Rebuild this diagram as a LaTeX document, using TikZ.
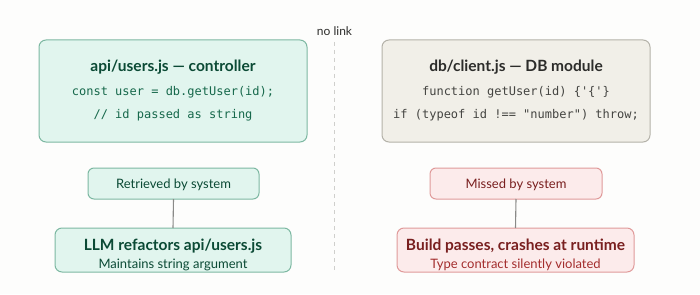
\documentclass[tikz,border=0pt]{standalone}
\usepackage{fontspec}
\setmainfont{Lato}
\newfontfamily\codefont{DejaVu Sans Mono}
\definecolor{bg}{HTML}{FDFDFC}
\definecolor{gfill}{HTML}{E1F5EE}
\definecolor{gdraw}{HTML}{7DB8A2}
\definecolor{gtext}{HTML}{0B4A35}
\definecolor{gcode}{HTML}{16684B}
\definecolor{nfill}{HTML}{F1EFE8}
\definecolor{ndraw}{HTML}{B4B2A9}
\definecolor{ntext}{HTML}{2C2C2A}
\definecolor{ncode}{HTML}{444441}
\definecolor{rfill}{HTML}{FCEBEB}
\definecolor{rdraw}{HTML}{E09A9A}
\definecolor{rtext}{HTML}{791F1F}
\definecolor{rsub}{HTML}{A32D2D}
\definecolor{conn}{HTML}{8A8A88}
\definecolor{divcol}{HTML}{CFCFCC}
\begin{document}
\begin{tikzpicture}[x=1pt,y=-1pt,
  box/.style={draw, line width=1pt, inner sep=0pt, outer sep=0pt},
  gbox/.style={box, fill=gfill, draw=gdraw},
  nbox/.style={box, fill=nfill, draw=ndraw},
  rbox/.style={box, fill=rfill, draw=rdraw},
  big/.style={rounded corners=7pt},
  small/.style={rounded corners=6pt},
  txt/.style={anchor=base, inner sep=0pt},
  ttl/.style={txt, font=\fontsize{15.5}{18}\selectfont\bfseries},
  code/.style={txt, font=\fontsize{12}{14}\selectfont\codefont},
  lbl/.style={txt, font=\fontsize{13}{15}\selectfont},
  connector/.style={draw=conn, line width=1.1pt}
]
\fill[bg] (0,0) rectangle (700,294);
\useasboundingbox (0,0) rectangle (700,294);

% divider
\coordinate (dtop) at (334,42);
\coordinate (dbot) at (334,273);
\draw[divcol, line width=1pt, dash pattern=on 4pt off 4pt] (dtop) -- (dbot);
\node[txt, font=\fontsize{12}{14}\selectfont, text=ntext] (nolink) at (334.5,36) {no link};

% top boxes
\node[gbox, big, minimum width=268pt, minimum height=102pt] (api) at (173,91) {};
\node[ttl, text=gtext] (apit) at (173,72) {api/users.js — controller};
\node[code, text=gcode] (apic1) at (173,95.5) {const user = db.getUser(id);};
\node[code, text=gcode] (apic2) at (173,118.5) {// id passed as string};

\node[nbox, big, minimum width=268pt, minimum height=102pt] (db) at (516,91) {};
\node[ttl, text=ntext] (dbt) at (516,72) {db/client.js — DB module};
\node[code, text=ncode] (dbc1) at (516,95.5) {function getUser(id) \{\char"27\{\char"27\}};
\node[code, text=ncode] (dbc2) at (516,118.5) {if (typeof id !== "number") throw;};

% middle small boxes
\node[gbox, small, minimum width=171pt, minimum height=31pt] (ret) at (173.5,183.5) {};
\node[lbl, text=gtext] (rett) at (173.5,188.5) {Retrieved by system};

\node[rbox, small, minimum width=172pt, minimum height=31pt] (miss) at (516,183.5) {};
\node[lbl, text=rtext] (misst) at (516,188.5) {Missed by system};

% bottom boxes
\node[gbox, big, minimum width=236pt, minimum height=44pt] (llm) at (173,250) {};
\node[ttl, text=gtext] (llmt) at (173,250.5) {LLM refactors api/users.js};
\node[lbl, text=gtext] (llms) at (173,268) {Maintains string argument};

\node[rbox, big, minimum width=237pt, minimum height=44pt] (build) at (515.5,250) {};
\node[ttl, text=rtext] (buildt) at (515.5,250.5) {Build passes, crashes at runtime};
\node[lbl, text=rsub] (builds) at (515.5,268) {Type contract silently violated};

% connectors
\draw[connector] (ret.south) -- (llm.north);
\draw[connector] (miss.south) -- (build.north);
\end{tikzpicture}
\end{document}
